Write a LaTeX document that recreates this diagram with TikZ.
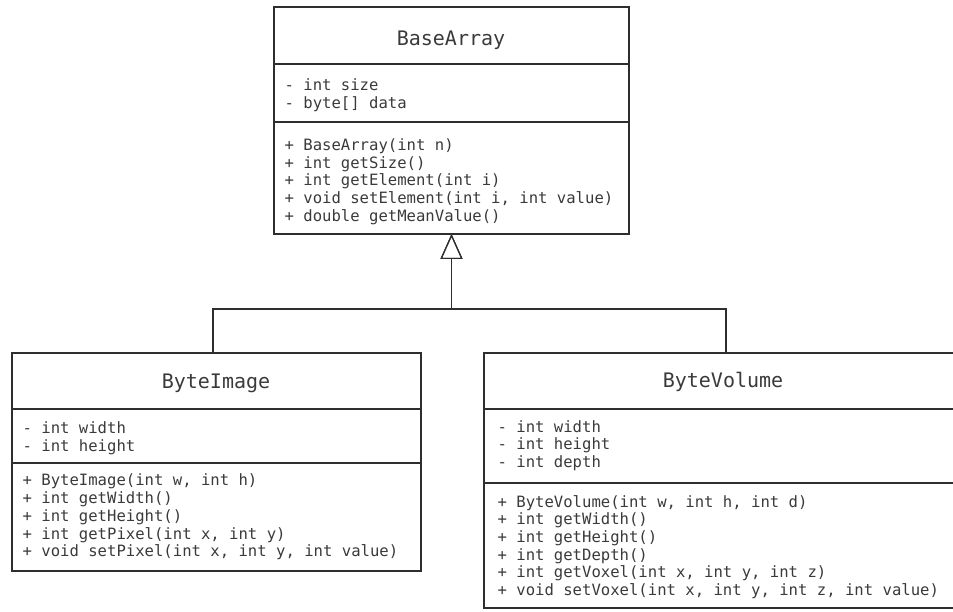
\documentclass[tikz,border=0pt]{standalone}
\usepackage{fontspec}
\newfontfamily\umlfont{DejaVu Sans Mono}
\usetikzlibrary{arrows.meta,calc}
\definecolor{ink}{HTML}{2E2E2E}
\definecolor{txt}{HTML}{3A3A3A}
\begin{document}
\begin{tikzpicture}[x=1pt,y=1pt,
  line width=1.2pt, draw=ink,
  classbox/.style={draw=ink, rectangle, anchor=north west, inner sep=0pt, outer sep=0pt},
  classname/.style={font=\umlfont\fontsize{20}{24}\selectfont, text=txt, inner sep=0pt},
  members/.style={font=\umlfont\fontsize{15.6}{17.7}\selectfont, text=txt, align=left, anchor=west, inner sep=0pt},
  divider/.style={line width=1.1pt, draw=ink},
  inherit/.style={draw=ink, line width=1.1pt, -{Triangle[open, length=25pt, width=22pt, line width=1.2pt]}}
]
\useasboundingbox (0,0) rectangle (953,-612);

% ---- BaseArray ----
\node[classbox, minimum width=355pt, minimum height=227pt] (base) at (274,-7) {};
\node[classname] (baseT) at (451,-40) {BaseArray};
\draw[divider] (274,-64) -- (629,-64);
\draw[divider] (274,-122) -- (629,-122);
\node[members] (baseA) at (284,-95.5) {- int size\\- byte[] data};
\node[members] (baseM) at (284,-181.5) {+ BaseArray(int n)\\+ int getSize()\\+ int getElement(int i)\\+ void setElement(int i, int value)\\+ double getMeanValue()};

% ---- ByteImage ----
\node[classbox, minimum width=409pt, minimum height=218pt] (img) at (12,-353) {};
\node[classname] (imgT) at (216,-383) {ByteImage};
\draw[divider] (12,-409) -- (421,-409);
\draw[divider] (12,-463) -- (421,-463);
\node[members] (imgA) at (22,-438) {- int width\\- int height};
\node[members] (imgM) at (22,-517) {+ ByteImage(int w, int h)\\+ int getWidth()\\+ int getHeight()\\+ int getPixel(int x, int y)\\+ void setPixel(int x, int y, int value)};

% ---- ByteVolume ----
\node[classbox, minimum width=478pt, minimum height=255pt] (vol) at (484,-353) {};
\node[classname] (volT) at (723,-382) {ByteVolume};
\draw[divider] (484,-409) -- (962,-409);
\draw[divider] (484,-483) -- (962,-483);
\node[members] (volA) at (497,-445.5) {- int width\\- int height\\- int depth};
\node[members] (volM) at (497,-547) {+ ByteVolume(int w, int h, int d)\\+ int getWidth()\\+ int getHeight()\\+ int getDepth()\\+ int getVoxel(int x, int y, int z)\\+ void setVoxel(int x, int y, int z, int value)};

% ---- generalisation ----
\coordinate (join) at (451.5,-309);
\coordinate (imgTop) at (213,-353);
\coordinate (volTop) at (726,-353);
\draw[inherit] (imgTop) |- (join) -- (base.south);
\draw[inherit] (volTop) |- (join) -- (base.south);
\end{tikzpicture}
\end{document}
